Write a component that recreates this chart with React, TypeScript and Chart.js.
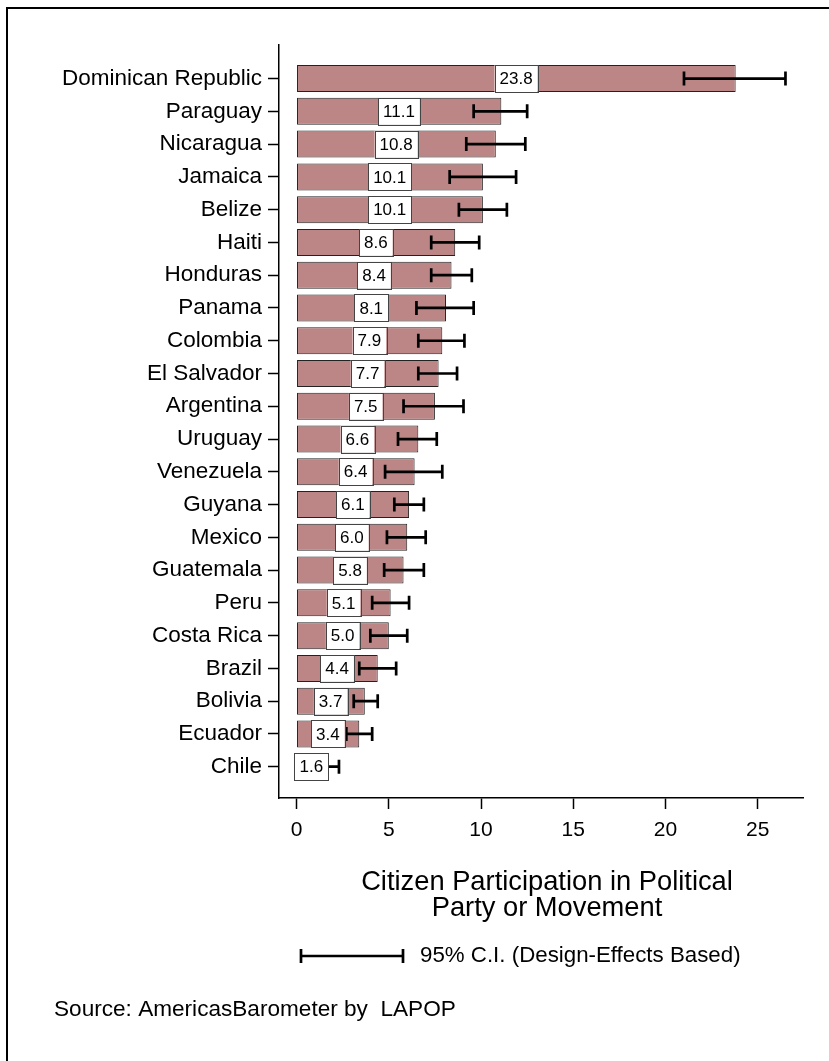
import React, { useEffect, useRef } from "react";
import { Chart, registerables } from "chart.js";

Chart.register(...registerables);

const countries = [
  "Dominican Republic", "Paraguay", "Nicaragua", "Jamaica", "Belize", "Haiti",
  "Honduras", "Panama", "Colombia", "El Salvador", "Argentina", "Uruguay",
  "Venezuela", "Guyana", "Mexico", "Guatemala", "Peru", "Costa Rica", "Brazil",
  "Bolivia", "Ecuador", "Chile",
];
const values = [23.8, 11.1, 10.8, 10.1, 10.1, 8.6, 8.4, 8.1, 7.9, 7.7, 7.5, 6.6, 6.4, 6.1, 6.0, 5.8, 5.1, 5.0, 4.4, 3.7, 3.4, 1.6];
const ciLow = [21.0, 9.6, 9.2, 8.3, 8.8, 7.3, 7.3, 6.5, 6.6, 6.6, 5.8, 5.5, 4.8, 5.3, 4.9, 4.75, 4.1, 4.0, 3.4, 3.1, 2.7, 1.0];
const ciHigh = [26.5, 12.5, 12.4, 11.9, 11.4, 9.9, 9.5, 9.6, 9.1, 8.7, 9.05, 7.6, 7.9, 6.9, 7.0, 6.9, 6.1, 6.0, 5.4, 4.4, 4.1, 2.3];
const xTicks = [0, 5, 10, 15, 20, 25];

const axisTitle = ["Citizen Participation in Political", "Party or Movement"];
const legendText = "95% C.I. (Design-Effects Based)";
const sourceText = "Source: AmericasBarometer by  LAPOP";

const FONT = "'Liberation Sans', Arial, sans-serif";

const overlayPlugin = {
  id: "overlay",
  afterDatasetsDraw(chart: any) {
    const ctx = chart.ctx;
    const xs = chart.scales.x;
    const ys = chart.scales.y;
    const meta = chart.getDatasetMeta(0);
    ctx.save();
    // error bars
    ctx.strokeStyle = "#000";
    ctx.lineWidth = 2.7;
    ctx.lineCap = "butt";
    values.forEach((v, i) => {
      const y = ys.getPixelForValue(i);
      const x1 = xs.getPixelForValue(ciLow[i]);
      const x2 = xs.getPixelForValue(ciHigh[i]);
      ctx.beginPath();
      ctx.moveTo(x1, y);
      ctx.lineTo(x2, y);
      ctx.moveTo(x1, y - 7);
      ctx.lineTo(x1, y + 7);
      ctx.moveTo(x2, y - 7);
      ctx.lineTo(x2, y + 7);
      ctx.stroke();
    });
    // value boxes
    ctx.font = `17px ${FONT}`;
    ctx.textAlign = "center";
    ctx.textBaseline = "middle";
    values.forEach((v, i) => {
      const el = meta.data[i];
      const h = el.height;
      const y = ys.getPixelForValue(i);
      const cx = xs.getPixelForValue(v / 2);
      const label = v.toFixed(1);
      const w = ctx.measureText(label).width + 10;
      ctx.fillStyle = "#fff";
      ctx.fillRect(cx - w / 2, y - h / 2, w, h);
      ctx.strokeStyle = "#444";
      ctx.lineWidth = 1;
      ctx.strokeRect(Math.round(cx - w / 2) + 0.5, Math.round(y - h / 2) + 0.5, Math.round(w), Math.round(h));
      ctx.fillStyle = "#000";
      ctx.fillText(label, cx, y + 1);
    });
    ctx.restore();
  },
  afterDraw(chart: any) {
    const ctx = chart.ctx;
    ctx.save();
    // frame
    ctx.fillStyle = "#000";
    ctx.fillRect(6, 7, 829, 2);
    ctx.fillRect(6, 7, 2, 1061);
    // axis title
    ctx.font = `27.3px ${FONT}`;
    ctx.textAlign = "center";
    ctx.textBaseline = "middle";
    ctx.fillText(axisTitle[0], 547, 882);
    ctx.fillText(axisTitle[1], 547, 908);
    // legend
    ctx.strokeStyle = "#000";
    ctx.lineWidth = 2.7;
    ctx.beginPath();
    ctx.moveTo(301, 956);
    ctx.lineTo(403, 956);
    ctx.moveTo(301, 949);
    ctx.lineTo(301, 963);
    ctx.moveTo(403, 949);
    ctx.lineTo(403, 963);
    ctx.stroke();
    ctx.font = `22.3px ${FONT}`;
    ctx.textAlign = "left";
    ctx.fillText(legendText, 420, 956);
    // source
    ctx.font = `22.6px ${FONT}`;
    ctx.fillText(sourceText, 54, 1010);
    ctx.restore();
  },
};

export default function App() {
  const ref = useRef<HTMLCanvasElement>(null);
  useEffect(() => {
    if (!ref.current) return;
    const chart = new Chart(ref.current, {
      type: "bar",
      data: {
        datasets: [
          {
            data: values.map((v, i) => ({ x: v, y: i })),
            backgroundColor: "#bc8686",
            borderColor: "#222",
            borderWidth: 1,
            borderSkipped: false,
            barPercentage: 1,
            categoryPercentage: 0.824,
          },
        ],
      },
      options: {
        indexAxis: "y",
        animation: false,
        responsive: false,
        devicePixelRatio: 1,
        layout: { padding: { left: 0, top: 45, right: 26, bottom: 0 } },
        plugins: { legend: { display: false }, tooltip: { enabled: false }, title: { display: false } },
        scales: {
          x: {
            type: "linear",
            position: "bottom",
            offset: false,
            min: -0.95,
            max: 27.45,
            afterBuildTicks: (axis: any) => {
              axis.ticks = xTicks.map((v) => ({ value: v }));
            },
            afterFit: (axis: any) => {
              axis.height = 263;
            },
            grid: { display: true, offset: false, drawOnChartArea: false, drawTicks: true, tickLength: 11, tickColor: "#000", tickWidth: 1.5 },
            border: { display: true, color: "#000", width: 1.5 },
            ticks: { color: "#000", font: { family: FONT, size: 21 }, padding: 9, autoSkip: false, maxRotation: 0 },
          },
          y: {
            type: "linear",
            position: "left",
            offset: false,
            reverse: true,
            min: -1.025,
            max: 21.955,
            afterBuildTicks: (axis: any) => {
              axis.ticks = countries.map((_, i) => ({ value: i }));
            },
            afterFit: (axis: any) => {
              axis.width = 279;
            },
            grid: { display: true, offset: false, drawOnChartArea: false, drawTicks: true, tickLength: 11, tickColor: "#000", tickWidth: 1.5 },
            border: { display: true, color: "#000", width: 1.5 },
            ticks: {
              color: "#000",
              font: { family: FONT, size: 22.5 },
              padding: 6,
              autoSkip: false,
              callback: (v: any) => countries[v] ?? "",
            },
          },
        },
      },
      plugins: [overlayPlugin],
    });
    return () => chart.destroy();
  }, []);
  return (
    <div style={{ position: "absolute", left: 0, top: 0, width: 829, height: 1061, background: "#fff" }}>
      <canvas ref={ref} width={829} height={1061} style={{ display: "block", width: 829, height: 1061 }} />
    </div>
  );
}
